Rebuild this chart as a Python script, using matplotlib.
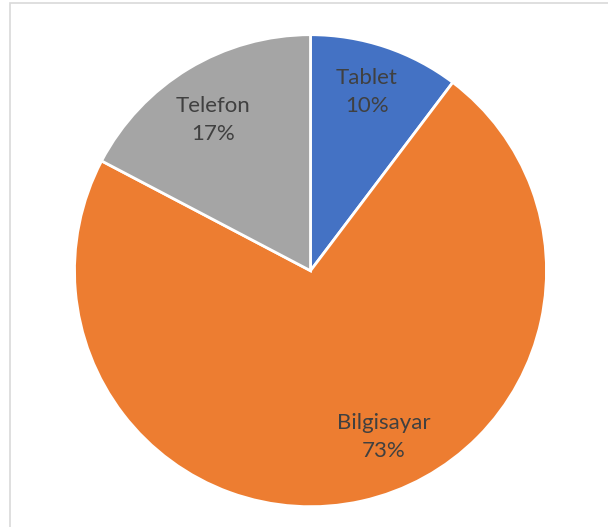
import numpy as np
import matplotlib.pyplot as plt
from matplotlib.patches import Rectangle

labels = ['Tablet', 'Bilgisayar', 'Telefon']
shares = [10.3, 72.4, 17.3]          # wedge sizes as measured in the picture
pct_labels = ['10%', '73%', '17%']    # percentages as printed on the chart
colors = ['#4472C4', '#ED7D31', '#A5A5A5']

W, H = 608, 527
cx, cy, r = 310.5, 527 - 270.7, 236

fig = plt.figure(figsize=(W / 100, H / 100), dpi=100)
ax = fig.add_axes([0, 0, 1, 1])

ax.pie(shares, colors=colors, startangle=90, counterclock=False,
       radius=1, center=(0, 0),
       wedgeprops=dict(edgecolor='white', linewidth=2))

# label placement (angle clockwise from top in degrees, distance as fraction of radius)
label_place = [(17.5, 0.794), (156.1, 0.769), (-32.8, 0.759)]
for name, pct, (ang, dist) in zip(labels, pct_labels, label_place):
    a = np.deg2rad(ang)
    ax.text(dist * np.sin(a), dist * np.cos(a), f'{name}\n{pct}',
            ha='center', va='center', color='#404040', fontsize=16,
            family='Lato', linespacing=1.5)

ax.set_aspect('auto')
ax.set_xlim(-cx / r, (W - cx) / r)
ax.set_ylim(-cy / r, (H - cy) / r)
ax.axis('off')

# chart area border (only top and left edges fall inside the image)
fig.add_artist(Rectangle((9.5, -10), W, H - 2.5 + 10, transform=None,
                         fill=False, edgecolor='#D9D9D9', linewidth=1.2))

fig.savefig('out.png', dpi=100)
